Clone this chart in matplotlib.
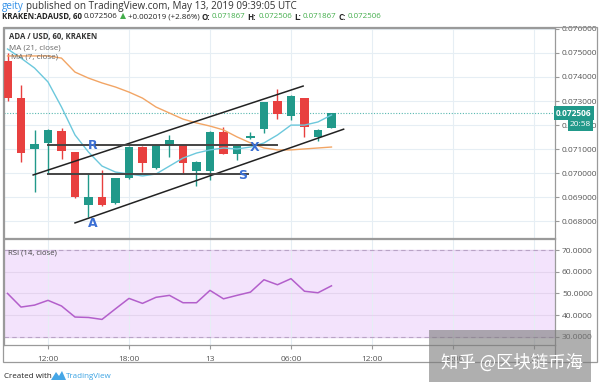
import matplotlib
matplotlib.use("Agg")
import matplotlib.pyplot as plt
from matplotlib.patches import Rectangle, Polygon
from matplotlib.lines import Line2D

# hourly candles, KRAKEN ADA/USD, May 12 09:00 -> May 13 09:00
opens = [0.07467, 0.07314, 0.07100, 0.07127, 0.07177, 0.07088, 0.06870, 0.06903, 0.06875,
         0.06979, 0.07110, 0.07021, 0.07114, 0.07117, 0.07011, 0.07010, 0.07170, 0.07079,
         0.07145, 0.07184, 0.07300, 0.07239, 0.07311, 0.07152, 0.071867]
highs = [0.07500, 0.07366, 0.07180, 0.07182, 0.07187, 0.07090, 0.07000, 0.07014, 0.06982,
         0.07112, 0.07112, 0.07119, 0.07159, 0.07119, 0.07050, 0.07175, 0.07193, 0.07116,
         0.07173, 0.07297, 0.07349, 0.07324, 0.07313, 0.07182, 0.072506]
lows = [0.07301, 0.07048, 0.06924, 0.07000, 0.07058, 0.06898, 0.06820, 0.06865, 0.06873,
        0.06977, 0.07007, 0.07019, 0.07069, 0.07000, 0.06947, 0.06972, 0.07078, 0.07055,
        0.07143, 0.07168, 0.07225, 0.07221, 0.07152, 0.07134, 0.071867]
closes = [0.07311, 0.07086, 0.07120, 0.07180, 0.07094, 0.06900, 0.06903, 0.06867, 0.06979,
          0.07110, 0.07044, 0.07117, 0.07138, 0.07041, 0.07048, 0.07170, 0.07080, 0.07114,
          0.07155, 0.07295, 0.07245, 0.07322, 0.07191, 0.07180, 0.072506]

ma_fast = [0.07516, 0.07478, 0.07437, 0.07379, 0.07275, 0.07159, 0.07088, 0.07030, 0.07005,
           0.06997, 0.06989, 0.06997, 0.07030, 0.07063, 0.07084, 0.07097, 0.07105, 0.07101,
           0.07109, 0.07126, 0.07159, 0.07200, 0.07200, 0.07213, 0.07242]
ma_slow = [0.07487, 0.07487, 0.07487, 0.07487, 0.07478, 0.07420, 0.07395, 0.07375, 0.07358,
           0.07337, 0.07312, 0.07275, 0.07250, 0.07225, 0.07209, 0.07196, 0.07180, 0.07151,
           0.07126, 0.07105, 0.07097, 0.07097, 0.07101, 0.07105, 0.07109]
rsi = [50.0, 43.7, 44.6, 46.8, 44.2, 39.1, 38.9, 38.0, 42.9, 47.7, 45.4, 48.2, 49.1,
       45.7, 45.7, 51.4, 47.5, 49.1, 50.6, 56.3, 54.0, 56.8, 51.0, 50.3, 53.5]

time_ticks = [3, 9, 15, 21, 27, 33, 39]
time_labels = ["12:00", "18:00", "13", "06:00", "12:00", "18:00", "14"]
price_ticks = [0.068, 0.069, 0.070, 0.071, 0.072, 0.073, 0.074, 0.075, 0.076]
rsi_ticks = [30, 40, 50, 60, 70]
last_price = 0.072506

# drawn lines (bar index, price)
upper_chan = [(1.9, 21.9), (0.06993, 0.07362)]
lower_chan = [(5.0, 24.9), (0.06794, 0.07183)]
res_line = [(3.0, 20.0), (0.07117, 0.07117)]
sup_line = [(3.0, 17.8), (0.06996, 0.06996)]
marks = [("R", 6.3, 0.07117), ("S", 17.4, 0.06991), ("A", 6.3, 0.06793), ("X", 18.3, 0.07105)]

W, H = 600, 386
up_col = "#21998a"
dn_col = "#e8403f"
grid_col = "#e6eef4"
frame_col = "#9a9a9a"
txt_col = "#555555"
plt.rcParams['font.family'] = ['Open Sans', 'DejaVu Sans']

fig = plt.figure(figsize=(6, 3.86), dpi=100)
rend = fig.canvas.get_renderer()


def fx(x):
    return x / W


def fy(y):
    return 1 - y / H


def chain(parts, x, y, size, gap=2.0):
    # lay text pieces one after another on one line
    for s, col, wt in parts:
        t = fig.text(fx(x), fy(y), s, fontsize=size, color=col, fontweight=wt, va='center')
        x += t.get_window_extent(rend).width + gap
    return x


ax = fig.add_axes([fx(4), fy(238), 551 / W, 210 / H])
ax_rsi = fig.add_axes([fx(4), fy(345), 551 / W, 106 / H])

xs = list(range(len(opens)))
for a in (ax, ax_rsi):
    a.set_xlim(-0.26, 40.56)
    a.set_xticks(time_ticks)
    a.grid(True, color=grid_col, lw=0.8)
    a.set_axisbelow(True)
    a.yaxis.tick_right()
    a.tick_params(axis='y', length=3, color=frame_col, labelsize=6, labelcolor=txt_col, pad=2)
    for s in a.spines.values():
        s.set_color(frame_col)
        s.set_linewidth(0.9)

# candles
for i in xs:
    o, h, l, c = opens[i], highs[i], lows[i], closes[i]
    col = up_col if c >= o else dn_col
    ax.vlines(i, l, h, color=col, lw=1, zorder=3)
    ax.bar(i, abs(c - o), bottom=min(o, c), width=0.64, color=col, zorder=4)

ax.plot(xs, ma_fast, color="#6cc8dc", lw=1, zorder=5)
ax.plot(xs, ma_slow, color="#f2a565", lw=1, zorder=5)
ax.axhline(last_price, color="#58b8b0", lw=0.8, ls=(0, (1, 1.5)), zorder=2)

for line in (upper_chan, lower_chan):
    ax.plot(line[0], line[1], color="#222222", lw=1.1, zorder=6)
for line in (res_line, sup_line):
    ax.plot(line[0], line[1], color="#444444", lw=1.4, zorder=6)
for m, x, y in marks:
    ax.text(x, y, m, color="#3b6fd4", fontsize=9, fontweight='bold', ha='center', va='center',
            zorder=7, family=['DejaVu Sans'])

ax.set_ylim(0.067314, 0.07603)
ax.set_yticks(price_ticks)
ax.set_yticklabels([f"{v:.6f}" for v in price_ticks])
ax.tick_params(axis='x', length=0, labelbottom=False)

# RSI pane
ax_rsi.axhspan(30, 70, color="#f3e3fc", zorder=0)
ax_rsi.axhline(70, color="#b9a3c6", lw=0.8, ls=(0, (4, 3)))
ax_rsi.axhline(30, color="#b9a3c6", lw=0.8, ls=(0, (4, 3)))
ax_rsi.plot(xs, rsi, color="#b35fcb", lw=1.1, zorder=3)
ax_rsi.set_ylim(26.2, 75.1)
ax_rsi.set_yticks(rsi_ticks)
ax_rsi.set_yticklabels([f"{v:.4f}" for v in rsi_ticks])
ax_rsi.set_xticklabels(time_labels)
ax_rsi.tick_params(axis='x', length=3, color=frame_col, labelsize=6, labelcolor=txt_col, pad=5)
ax_rsi.grid(True, axis='y', color="#e4d4ee", lw=0.8)
ax_rsi.text(0.008, 0.87, "RSI (14, close)", transform=ax_rsi.transAxes, fontsize=5.6,
            color="#444444", va='center')

# outer frame and time axis border
fig.add_artist(Rectangle((fx(3), fy(362)), 594 / W, 335 / H, fill=False, ec=frame_col, lw=0.9,
                         transform=fig.transFigure))
fig.add_artist(Line2D([fx(555), fx(555)], [fy(362), fy(345)], color=frame_col, lw=0.9))

# price labels on the axis
fig.text(fx(556), fy(113), "0.072506", fontsize=6, color="white", fontweight='bold', va='center',
         bbox=dict(boxstyle="square,pad=0.25", fc=up_col, ec="none"))
fig.text(fx(570), fy(125), "20:58", fontsize=6, color="white", va='center',
         bbox=dict(boxstyle="square,pad=0.25", fc=up_col, ec="none"))

# header
chain([("geity", "#2f8fe8", 'normal'),
       ("published on TradingView.com, May 13, 2019 09:39:05 UTC", "#333333", 'normal')],
      2, 7, 7.1, gap=2)
green = "#43ad4b"
dark = "#222222"
chain([("KRAKEN:ADAUSD, 60", dark, 'bold'), ("0.072506", dark, 'normal'),
       ("▲", green, 'normal'), ("+0.002019 (+2.86%)", dark, 'normal'),
       ("O:", dark, 'bold'), ("0.071867", green, 'normal'),
       ("H:", dark, 'bold'), ("0.072506", green, 'normal'),
       ("L:", dark, 'bold'), ("0.071867", green, 'normal'),
       ("C:", dark, 'bold'), ("0.072506", green, 'normal')], 2, 17, 5.7, gap=2.0)

# pane legend
fig.text(fx(9), fy(37), "ADA / USD, 60, KRAKEN", fontsize=5.6, color="#333333", fontweight='bold',
         va='center')
fig.text(fx(9), fy(48), "MA (21, close)", fontsize=5.8, color="#666666", va='center')
fig.text(fx(11), fy(57), "MA (7, close)", fontsize=5.8, color="#666666", va='center')

# footer
fig.text(fx(4), fy(376), "Created with", fontsize=5.8, color="#222222", va='center')
fig.add_artist(Polygon([(fx(51), fy(380)), (fx(56), fy(372)), (fx(59), fy(376)), (fx(62), fy(371)),
                        (fx(66), fy(380))], closed=True, fc="#45a6e6", ec="none",
                       transform=fig.transFigure))
fig.text(fx(66), fy(376), "TradingView", fontsize=5.8, color="#3ba3e3", va='center')

# watermark
fig.add_artist(Rectangle((fx(429), fy(382)), 162 / W, 52 / H, fc="#7a7a7a", ec="none", alpha=0.6,
                         transform=fig.transFigure, zorder=10))
fig.text(fx(512), fy(363), "知乎 @区块链币海", fontsize=12.5, color="white", ha='center', va='center',
         family=['Noto Sans CJK SC', 'DejaVu Sans'], zorder=11)

fig.savefig("out.png", dpi=100)
